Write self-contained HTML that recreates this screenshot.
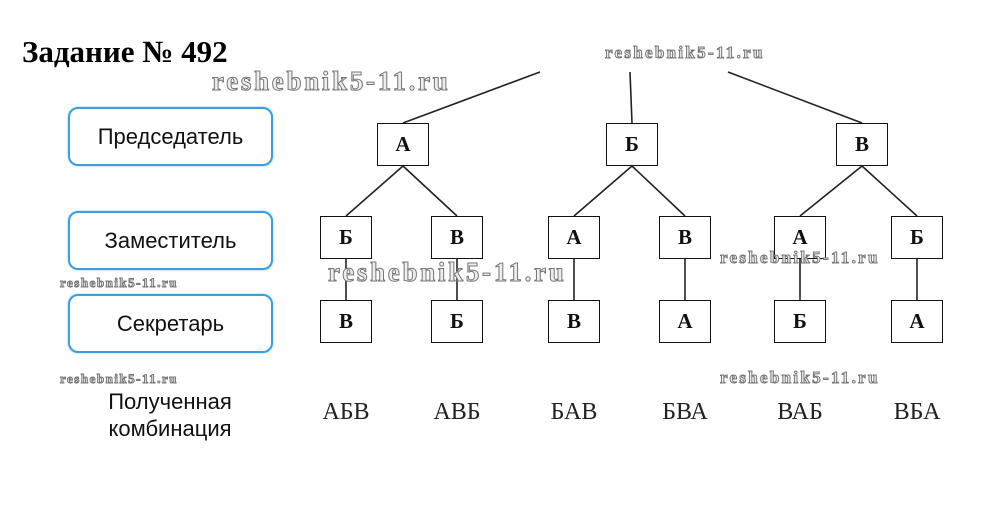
<!DOCTYPE html>
<html><head><meta charset="utf-8"><style>
body{margin:0;width:987px;height:512px;background:#fff;position:relative;overflow:hidden;font-family:"Liberation Sans",sans-serif}
.t{position:absolute;left:22px;top:34px;font:bold 31px "Liberation Serif",serif;color:#000}
.lb{position:absolute;left:68px;width:201px;border:2px solid #3a9ee0;border-radius:10px;box-shadow:0 0 2px #8cf;display:flex;align-items:center;justify-content:center;font-size:22px;color:#111}
.b{position:absolute;width:50px;height:41px;border:1.5px solid #111;background:#fff;display:flex;align-items:center;justify-content:center;font:bold 21px "Liberation Serif",serif;color:#111}
.c{position:absolute;top:399px;font:24px "Liberation Serif",serif;color:#222;width:80px;text-align:center}
.w{position:absolute;font-weight:bold;font-family:"Liberation Serif",serif;color:#eee;-webkit-text-stroke:1px #777;white-space:nowrap}
</style></head><body>
<div class="t">Задание № 492</div>
<svg width="987" height="512" style="position:absolute;left:0;top:0">
<g stroke="#222" stroke-width="1.6">
<line x1="403" y1="123" x2="540" y2="72"/><line x1="632" y1="123" x2="630" y2="72"/><line x1="862" y1="123" x2="728" y2="72"/>
<line x1="403" y1="166" x2="346" y2="216"/><line x1="403" y1="166" x2="457" y2="216"/>
<line x1="632" y1="166" x2="574" y2="216"/><line x1="632" y1="166" x2="685" y2="216"/>
<line x1="862" y1="166" x2="800" y2="216"/><line x1="862" y1="166" x2="917" y2="216"/>
<line x1="346" y1="259" x2="346" y2="300"/><line x1="457" y1="259" x2="457" y2="300"/>
<line x1="574" y1="259" x2="574" y2="300"/><line x1="685" y1="259" x2="685" y2="300"/>
<line x1="800" y1="259" x2="800" y2="300"/><line x1="917" y1="259" x2="917" y2="300"/>
</g></svg>
<div class="lb" style="top:107px;height:55px">Председатель</div>
<div class="lb" style="top:211px;height:55px">Заместитель</div>
<div class="lb" style="top:294px;height:55px">Секретарь</div>
<div style="position:absolute;left:70px;top:388px;width:200px;text-align:center;font-size:22px;line-height:27px;color:#111">Полученная<br>комбинация</div>
<div class="b" style="left:377px;top:123px">А</div>
<div class="b" style="left:606px;top:123px">Б</div>
<div class="b" style="left:836px;top:123px">В</div>
<div class="b" style="left:320px;top:216px">Б</div>
<div class="b" style="left:431px;top:216px">В</div>
<div class="b" style="left:548px;top:216px">А</div>
<div class="b" style="left:659px;top:216px">В</div>
<div class="b" style="left:774px;top:216px">А</div>
<div class="b" style="left:891px;top:216px">Б</div>
<div class="b" style="left:320px;top:300px">В</div>
<div class="b" style="left:431px;top:300px">Б</div>
<div class="b" style="left:548px;top:300px">В</div>
<div class="b" style="left:659px;top:300px">А</div>
<div class="b" style="left:774px;top:300px">Б</div>
<div class="b" style="left:891px;top:300px">А</div>
<div class="c" style="left:306px">АБВ</div>
<div class="c" style="left:417px">АВБ</div>
<div class="c" style="left:534px">БАВ</div>
<div class="c" style="left:645px">БВА</div>
<div class="c" style="left:760px">ВАБ</div>
<div class="c" style="left:877px">ВБА</div>
<div class="w" style="left:212px;top:66px;font-size:27px;letter-spacing:2.7px">reshebnik5-11.ru</div>
<div class="w" style="left:605px;top:43px;font-size:17px;letter-spacing:2.3px">reshebnik5-11.ru</div>
<div class="w" style="left:60px;top:275px;font-size:13px;letter-spacing:1.5px">reshebnik5-11.ru</div>
<div class="w" style="left:328px;top:257px;font-size:27px;letter-spacing:2.7px">reshebnik5-11.ru</div>
<div class="w" style="left:720px;top:248px;font-size:17px;letter-spacing:2.3px">reshebnik5-11.ru</div>
<div class="w" style="left:60px;top:371px;font-size:13px;letter-spacing:1.5px">reshebnik5-11.ru</div>
<div class="w" style="left:720px;top:368px;font-size:17px;letter-spacing:2.3px">reshebnik5-11.ru</div>
</body></html>
